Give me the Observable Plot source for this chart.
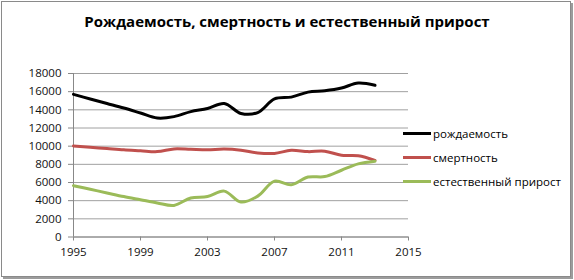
<!DOCTYPE html>
<html>
<head>
<meta charset="utf-8">
<script src="https://cdn.jsdelivr.net/npm/d3@7"></script>
<script src="https://cdn.jsdelivr.net/npm/@observablehq/plot@0.6"></script>
<style>
  html, body { margin: 0; padding: 0; background: #fff; }
  #wrap { position: relative; width: 574px; height: 280px; overflow: hidden; font-family: "Open Sans", sans-serif; }
  #frame { position: absolute; left: 1px; top: 1px; width: 568px; height: 274px; border: 1px solid #8a8a8a; box-shadow: 2px 2px 0 #9c9c9c; }
  #title { position: absolute; left: 0; width: 574px; top: 11px; text-align: center; font-weight: bold; font-size: 15px; color: #000; white-space: nowrap; }
  #chart { position: absolute; left: 0; top: 0; }
  .leg { position: absolute; left: 403px; height: 16px; display: flex; align-items: center; font-size: 11.5px; color: #000; white-space: nowrap; }
  .leg span.sw { display: inline-block; width: 28px; height: 3px; margin-right: 2px; }
</style>
</head>
<body>
<div id="wrap">
  <div id="frame"></div>
  <div id="chart"></div>
  <div id="title">Рождаемость, смертность и естественный прирост</div>
  <div id="legend"></div>
</div>
<script>
const years = [1995,1996,1997,1998,1999,2000,2001,2002,2003,2004,2005,2006,2007,2008,2009,2010,2011,2012,2013];
const births = [15700,15200,14700,14200,13650,13100,13250,13800,14150,14700,13600,13700,15200,15400,15950,16100,16400,16950,16700];
const deaths = [10020,9880,9740,9600,9500,9400,9700,9650,9600,9680,9550,9250,9200,9550,9400,9440,9000,8950,8440];
const natural = [5650,5250,4850,4450,4100,3750,3480,4300,4450,5050,3850,4500,6150,5750,6600,6650,7350,8050,8350];
const seriesNames = ["рождаемость","смертность","естественный прирост"];
const seriesColors = ["#000000","#c0504d","#9bbb59"];
const xTicks = [1995,1999,2003,2007,2011,2015];
const yTicks = [0,2000,4000,6000,8000,10000,12000,14000,16000,18000];

const values = [births, deaths, natural];
const rows = [];
values.forEach((vals, s) => vals.forEach((v, i) => rows.push({year: years[i], value: v, series: seriesNames[s]})));

const chart = Plot.plot({
  width: 574,
  height: 280,
  marginLeft: 73,
  marginRight: 166,
  marginTop: 73,
  marginBottom: 43.5,
  style: {fontFamily: "Open Sans, sans-serif", fontSize: "11.5px", color: "#111", background: "transparent"},
  x: {domain: [1995, 2015], label: null},
  y: {domain: [0, 18000], label: null},
  color: {domain: seriesNames, range: seriesColors},
  marks: [
    Plot.gridY(yTicks, {stroke: "#a0a0a0", strokeOpacity: 1, strokeWidth: 1}),
    Plot.ruleX([1995], {stroke: "#888", strokeWidth: 1}),
    Plot.ruleY([0], {stroke: "#888", strokeWidth: 1}),
    Plot.axisY(yTicks, {tickSize: 5, tickPadding: 7, stroke: "#888", fill: "#111", tickFormat: d => String(d), label: null}),
    Plot.axisX(xTicks, {tickSize: 4, tickPadding: 7, stroke: "#888", fill: "#111", tickFormat: d => String(d), label: null}),
    Plot.line(rows, {x: "year", y: "value", z: "series", stroke: "series", strokeWidth: 3, curve: "catmull-rom"})
  ]
});
document.getElementById("chart").appendChild(chart);

const legend = document.getElementById("legend");
const legTops = [125, 149, 173];
seriesNames.forEach((name, i) => {
  const d = document.createElement("div");
  d.className = "leg";
  d.style.top = legTops[i] + "px";
  d.innerHTML = `<span class="sw" style="background:${seriesColors[i]}"></span>${name}`;
  legend.appendChild(d);
});
</script>
</body>
</html>
